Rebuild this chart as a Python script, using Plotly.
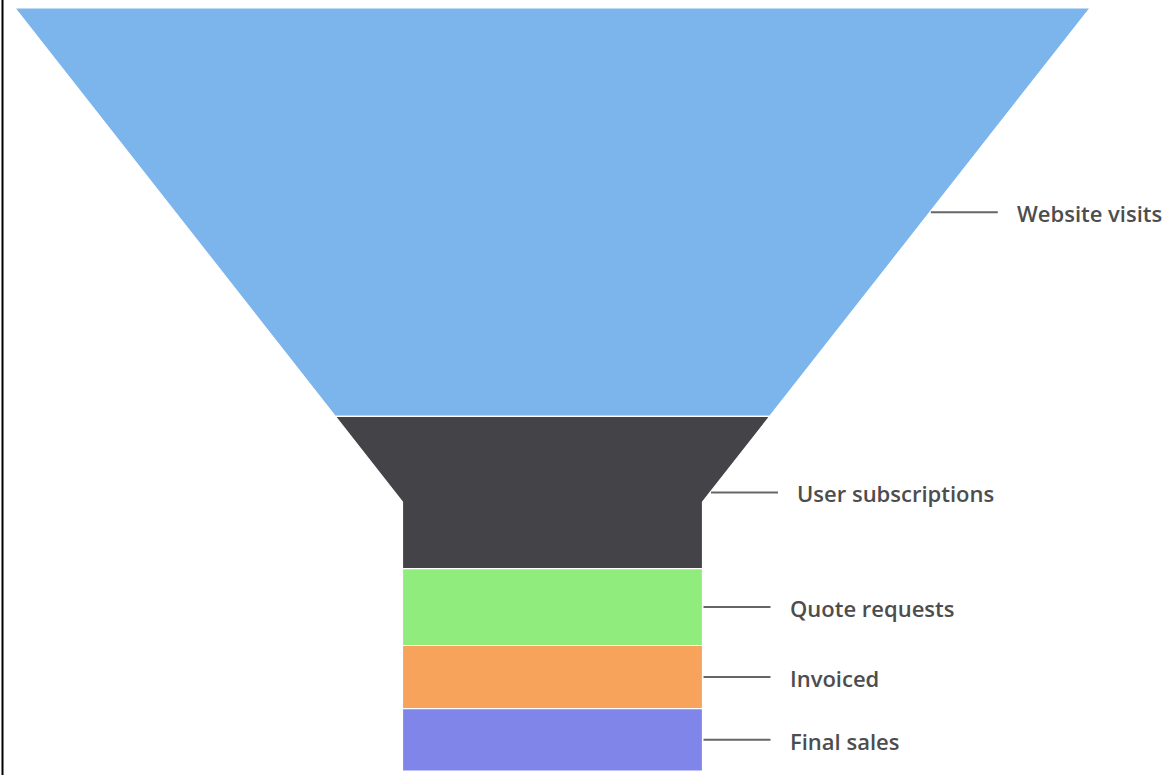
import plotly.graph_objects as go

# ---- data ----
stages = ["Website visits", "User subscriptions", "Quote requests", "Invoiced", "Final sales"]
values = [15654, 5830, 2950, 2420, 2390]
colors = ["#7cb5ec", "#434348", "#90ed7d", "#f7a35c", "#8085e9"]

# ---- funnel geometry (plot units == pixels) ----
W, H = 1170, 775
center_x = 552.5
top_y, bottom_y = 8.0, 771.0
top_width = 1075.0
neck_width = 300.0
neck_y = 502.0

def half_width(y):
    if y >= neck_y:
        return neck_width / 2
    t = (y - top_y) / (neck_y - top_y)
    return top_width / 2 - (top_width - neck_width) / 2 * t

total = sum(values)
height = bottom_y - top_y

fig = go.Figure()
cum = 0.0
annotations = []
for name, v, c in zip(stages, values, colors):
    y1 = top_y + cum / total * height
    cum += v
    y3 = top_y + cum / total * height
    xs = [center_x - half_width(y1), center_x + half_width(y1)]
    ys = [y1, y1]
    if y1 < neck_y < y3:
        xs.append(center_x + neck_width / 2); ys.append(neck_y)
    xs.append(center_x + half_width(y3)); ys.append(y3)
    xs.append(center_x - half_width(y3)); ys.append(y3)
    if y1 < neck_y < y3:
        xs.append(center_x - neck_width / 2); ys.append(neck_y)
    xs.append(xs[0]); ys.append(ys[0])
    fig.add_trace(go.Scatter(
        x=xs, y=ys, mode="lines", fill="toself", fillcolor=c,
        line=dict(color="#ffffff", width=1.2), name=name,
        hoveron="fills", text=f"{name}: {v}", hoverinfo="text",
        showlegend=False))
    ymid = (y1 + y3) / 2
    edge = center_x + half_width(ymid)
    fig.add_trace(go.Scatter(
        x=[edge + 1, edge + 68], y=[ymid, ymid], mode="lines",
        line=dict(color="#666666", width=2), hoverinfo="skip", showlegend=False))
    annotations.append(dict(
        x=edge + 85, y=ymid + 1, xref="x", yref="y", text=name, showarrow=False,
        xanchor="left", yanchor="middle",
        font=dict(family="Open Sans", size=22, color="#4d4d4d", weight=600)))

fig.update_layout(
    width=W, height=H,
    margin=dict(l=0, r=0, t=0, b=0),
    paper_bgcolor="#ffffff", plot_bgcolor="#ffffff",
    xaxis=dict(range=[0, W], visible=False, fixedrange=True),
    yaxis=dict(range=[H, 0], visible=False, fixedrange=True),
    annotations=annotations,
    shapes=[dict(type="line", xref="x", yref="paper",
                 x0=2.5, x1=2.5, y0=0, y1=1,
                 line=dict(color="#000000", width=2))],
)

fig.write_html("out.html",
               config={"displayModeBar": False},
               post_script="document.body.style.margin='0';document.body.style.overflow='hidden';")
